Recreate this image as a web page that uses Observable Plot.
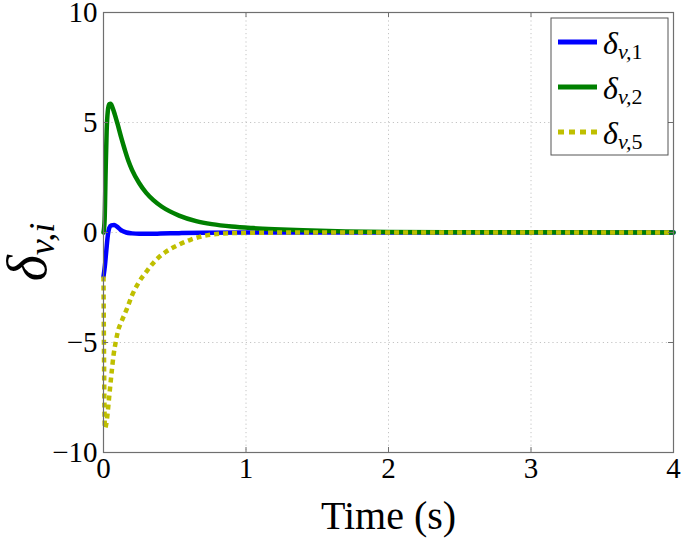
<!DOCTYPE html>
<html>
<head>
<meta charset="utf-8">
<script src="https://cdn.jsdelivr.net/npm/d3@7"></script>
<script src="https://cdn.jsdelivr.net/npm/@observablehq/plot@0.6"></script>
<style>
  html, body { margin: 0; padding: 0; background: #fff; }
  #chart { width: 685px; height: 545px; }
</style>
</head>
<body>
<div id="chart"></div>
<script>
// ---- data ----
const tBlue = [0, 0.01, 0.02, 0.03, 0.04, 0.055, 0.075, 0.095, 0.12, 0.16, 0.2, 0.25, 0.3, 0.4, 0.53, 0.7, 1.0, 1.5, 4];
const vBlue = [-2.0, -1.5, -0.8, -0.15, 0.2, 0.32, 0.34, 0.27, 0.12, 0.0, -0.04, -0.06, -0.06, -0.05, -0.03, -0.01, 0, 0, 0];

const tGreen = [0, 0.008, 0.015, 0.022, 0.03, 0.04, 0.05, 0.062, 0.08, 0.1, 0.125, 0.15, 0.175, 0.2, 0.25, 0.3, 0.35, 0.41, 0.53, 0.65, 0.76, 0.9, 1.05, 1.2, 1.4, 1.7, 2.0, 2.5, 4];
const vGreen = [0, 0.6, 2.8, 4.6, 5.5, 5.83, 5.85, 5.7, 5.35, 4.9, 4.3, 3.75, 3.25, 2.85, 2.25, 1.8, 1.47, 1.17, 0.77, 0.52, 0.38, 0.27, 0.2, 0.15, 0.1, 0.05, 0.02, 0.01, 0];

const tYellow = [0, 0.01, 0.023, 0.035, 0.047, 0.058, 0.07, 0.085, 0.105, 0.124, 0.164, 0.2, 0.248, 0.307, 0.365, 0.433, 0.517, 0.61, 0.715, 0.83, 0.95, 1.1, 1.5, 4];
const vYellow = [-2.0, -8.9, -8.55, -7.8, -7.0, -6.3, -5.6, -5.0, -4.4, -4.08, -3.47, -2.86, -2.26, -1.73, -1.27, -0.9, -0.59, -0.33, -0.14, -0.05, -0.02, -0.01, 0, 0];

const xTicks = [0, 1, 2, 3, 4];
const yTicks = [-10, -5, 0, 5, 10];
const xGrid = [1, 2, 3];
const yGrid = [-5, 0, 5];
const seriesNames = ["1", "2", "5"];
const seriesColors = ["#0000ff", "#008000", "#bfbf00"];
const xLabel = "Time (s)";

// ---- build tables ----
const mk = (t, v) => t.map((d, i) => ({t: d, v: v[i]}));
const blue = mk(tBlue, vBlue);
const green = mk(tGreen, vGreen);
const yellow = mk(tYellow, vYellow);

const W = 685, H = 545;
const mL = 103, mR = 12, mT = 12, mB = 93;
const pw = W - mL - mR, ph = H - mT - mB;
const tick = 5;
const axisColor = "#6f6f6f";
const serif = "'Liberation Serif', 'Times New Roman', 'DejaVu Serif', serif";

const plot = Plot.plot({
  width: W, height: H,
  marginLeft: mL, marginRight: mR, marginTop: mT, marginBottom: mB,
  x: {domain: [0, 4]},
  y: {domain: [-10, 10]},
  style: {fontFamily: serif, fontSize: "29px", color: "#000", background: "#fff", overflow: "visible"},
  marks: [
    Plot.gridX(xGrid, {stroke: "#c4c4c4", strokeOpacity: 1, strokeDasharray: "1.2,3"}),
    Plot.gridY(yGrid, {stroke: "#c4c4c4", strokeOpacity: 1, strokeDasharray: "1.2,3"}),
    Plot.line(blue, {x: "t", y: "v", stroke: seriesColors[0], strokeWidth: 4.5, curve: "monotone-x"}),
    Plot.line(green, {x: "t", y: "v", stroke: seriesColors[1], strokeWidth: 4.5, curve: "monotone-x"}),
    Plot.line(yellow, {x: "t", y: "v", stroke: seriesColors[2], strokeWidth: 4.5, strokeDasharray: "5,4", strokeLinecap: "butt", curve: "monotone-x"}),
    Plot.frame({stroke: axisColor, strokeWidth: 1.2}),
    Plot.tickX(xTicks, {x: d => d, insetTop: ph - tick, stroke: axisColor}),
    Plot.tickX(xTicks, {x: d => d, insetBottom: ph - tick, stroke: axisColor}),
    Plot.tickY(yTicks, {y: d => d, insetRight: pw - tick, stroke: axisColor}),
    Plot.tickY(yTicks, {y: d => d, insetLeft: pw - tick, stroke: axisColor}),
    Plot.axisX(xTicks, {tickSize: 0, tickPadding: 5, label: null, tickFormat: d => String(d), fontSize: 29, fontFamily: serif}),
    Plot.axisY(yTicks, {tickSize: 0, tickPadding: 6, label: null, fontSize: 29, fontFamily: serif}),
    Plot.text([xLabel], {text: d => d, frameAnchor: "bottom", dy: 76, fontSize: 40, fontFamily: serif})
  ]
});

document.getElementById("chart").appendChild(plot);

// ---- y-axis math label  δ_{v,i} ----
const svg = d3.select(plot);
const yl = svg.append("text")
  .attr("transform", "translate(46,252) rotate(-90)")
  .attr("text-anchor", "middle")
  .attr("font-family", serif)
  .attr("font-style", "italic")
  .attr("fill", "#000");
yl.append("tspan").attr("font-size", 56).text("δ");
yl.append("tspan").attr("font-size", 36).attr("dy", 8).text("v,i");

// ---- legend ----
const lg = svg.append("g");
lg.append("rect")
  .attr("x", 551).attr("y", 18).attr("width", 117).attr("height", 137)
  .attr("fill", "#fff").attr("stroke", "#555").attr("stroke-width", 1);
const rowY = [42, 87, 132];
seriesNames.forEach((name, i) => {
  const y = rowY[i];
  lg.append("line")
    .attr("x1", 558).attr("x2", 597).attr("y1", y).attr("y2", y)
    .attr("stroke", seriesColors[i]).attr("stroke-width", 5)
    .attr("stroke-dasharray", i === 2 ? "6,5" : null);
  const tx = lg.append("text")
    .attr("x", 603).attr("y", y + 12)
    .attr("text-anchor", "start")
    .attr("font-family", serif).attr("font-style", "italic").attr("fill", "#000");
  tx.append("tspan").attr("font-size", 32).text("δ");
  tx.append("tspan").attr("font-size", 22).attr("dy", 5).text("v,");
  tx.append("tspan").attr("font-size", 22).attr("font-style", "normal").text(name);
});
</script>
</body>
</html>
